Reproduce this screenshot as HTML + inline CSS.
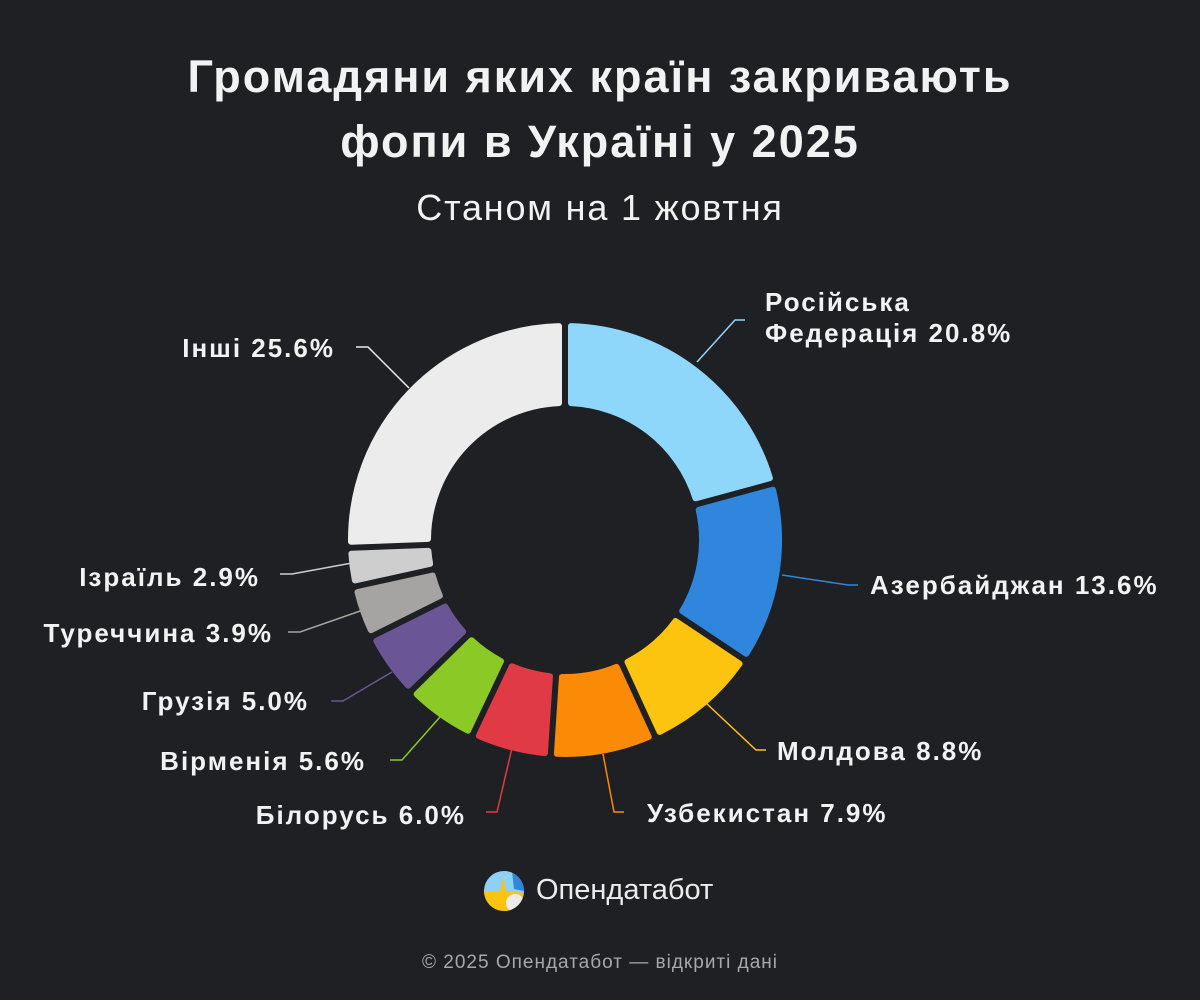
<!DOCTYPE html>
<html><head><meta charset="utf-8"><style>
body{margin:0;width:1200px;height:1000px;background:#1f2024;font-family:"Liberation Sans",sans-serif;overflow:hidden;position:relative;color:#f2f2f2}
.t{position:absolute;left:0;width:1200px;text-align:center;font-weight:bold;font-size:45px;letter-spacing:2px}
.l{position:absolute;font-weight:bold;font-size:26px;letter-spacing:2px;color:#f2f2f2;line-height:31px;white-space:nowrap}
.r{text-align:right;width:400px}
</style></head><body>
<div class="t" style="top:51px">Громадяни яких країн закривають</div>
<div class="t" style="top:116px">фопи в Україні у 2025</div>
<div class="t" style="top:187px;font-weight:normal;font-size:36px;letter-spacing:1.8px">Станом на 1 жовтня</div>
<svg id="s" width="1200" height="1000" style="position:absolute;left:0;top:0"></svg>
<div class="l" style="left:765px;top:287px">Російська<br>Федерація 20.8%</div>
<div class="l" style="left:870px;top:570px">Азербайджан 13.6%</div>
<div class="l" style="left:777px;top:736px">Молдова 8.8%</div>
<div class="l" style="left:647px;top:798px">Узбекистан 7.9%</div>
<div class="l r" style="left:66px;top:800px">Білорусь 6.0%</div>
<div class="l r" style="left:-34px;top:746px">Вірменія 5.6%</div>
<div class="l r" style="left:-91px;top:686px">Грузія 5.0%</div>
<div class="l r" style="left:-127px;top:618px">Туреччина 3.9%</div>
<div class="l r" style="left:-140px;top:562px">Ізраїль 2.9%</div>
<div class="l r" style="left:-65px;top:333px">Інші 25.6%</div>
<svg width="40" height="40" style="position:absolute;left:484px;top:871px" viewBox="0 0 40 40">
<clipPath id="c"><circle cx="20" cy="20" r="20"/></clipPath>
<g clip-path="url(#c)"><rect width="40" height="40" fill="#8fd0f5"/><path d="M28 0H40V20L30 18Z" fill="#2f86dc"/><path d="M0 20L16 20L19 6L22 20L40 22V40H0Z" fill="#fcc40f"/><circle cx="31" cy="32" r="9" fill="#ececec"/></g></svg>
<div style="position:absolute;left:536px;top:874px;font-size:29px;color:#ececec">Опендатабот</div>
<div style="position:absolute;left:0;width:1200px;top:952px;text-align:center;font-size:19px;letter-spacing:1px;color:#a8a8a8">© 2025 Опендатабот — відкриті дані</div>
<script>
var d=[[20.8,"#8fd6fb"],[13.6,"#2f86dc"],[8.8,"#fcc40f"],[7.9,"#fb8a06"],[6.0,"#e03b44"],[5.6,"#8ac926"],[5.0,"#6a5597"],[3.9,"#a5a4a2"],[2.9,"#cdcecd"],[25.6,"#ececec"]];
var cx=565,cy=540,R=214,r=137,h="",a=0,tot=100.1;
function p(rad,ang){return (cx+rad*Math.sin(ang)).toFixed(1)+","+(cy-rad*Math.cos(ang)).toFixed(1)}
d.forEach(function(e){var s=a/tot*2*Math.PI,en=(a+e[0])/tot*2*Math.PI;a+=e[0];
var po=6/R,pi=6/r,lg=(en-s)>Math.PI?1:0;
h+='<path d="M'+p(R,s+po)+' A'+R+','+R+' 0 '+lg+' 1 '+p(R,en-po)+' L'+p(r,en-pi)+' A'+r+','+r+' 0 '+lg+' 0 '+p(r,s+pi)+'Z" fill="'+e[1]+'" stroke="'+e[1]+'" stroke-width="6" stroke-linejoin="round"/>';});
var L=[["697,362 735,320 745,320","#8fd6fb"],["782,575 848,585 858,585","#2f86dc"],["706,703 756,750 766,750","#fcc40f"],["603,754 614,812 624,812","#fb8a06"],["512,748 497,812 486,812","#e03b44"],["440,717 402,760 390,760","#8ac926"],["392,672 343,701 331,701","#6a5597"],["363,610 300,632 288,632","#a5a4a2"],["352,563 292,574 280,574","#cdcecd"],["409,388 368,347 356,347","#ececec"]];
L.forEach(function(e){h+='<polyline points="'+e[0]+'" fill="none" stroke="'+e[1]+'" stroke-width="1.5"/>'});
document.getElementById("s").innerHTML=h;
</script>
</body></html>
